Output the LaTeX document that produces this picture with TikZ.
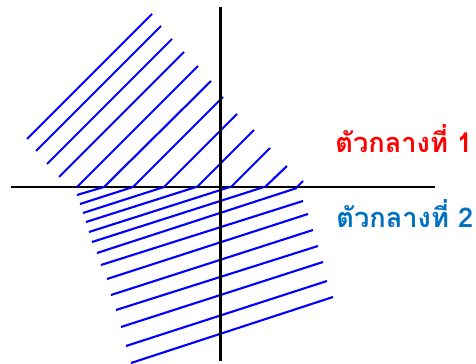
\documentclass[tikz,border=0pt]{standalone}
\usepackage{fontspec}
\newfontfamily\thaifont[Script=Thai]{Loma}
\definecolor{labelred}{RGB}{255,0,0}
\definecolor{labelblue}{RGB}{0,112,192}

\begin{document}
\begin{tikzpicture}[x=0.02cm, y=-0.02cm,
  axis/.style={line width=1.5pt},
  wave/.style={blue, line width=1.2pt},
  medium/.style={font=\thaifont\bfseries\fontsize{15.5}{18}\selectfont, inner sep=0pt, anchor=base west}]
\useasboundingbox (0,0) rectangle (476,364);

\coordinate (W) at (11,187);
\coordinate (E) at (435,187);
\coordinate (N) at (220.7,7);
\coordinate (S) at (220.7,361);

\draw[axis] (W) -- (E);

% medium 1
\draw[wave] (27,139) -- (152,14);
\draw[wave] (36,151) -- (161,26);
\draw[wave] (47,164) -- (172,39);
\draw[wave] (59,177) -- (184,52);
\draw[wave] (77,187) -- (198,66);
\draw[wave] (104,187) -- (211,81);
\draw[wave] (133,187) -- (223,97);
\draw[wave] (164,187) -- (237,114);
\draw[wave] (197,187) -- (254,130);
\draw[wave] (231,187) -- (270,148);
\draw[wave] (265,187) -- (287,166);
\draw[wave] (297,187) -- (303,181);

% medium 2
\draw[wave] (77,195) -- (104,187);
\draw[wave] (80,204) -- (133,187);
\draw[wave] (83,213) -- (164,187);
\draw[wave] (86,222) -- (196,187);
\draw[wave] (89,232) -- (230,187);
\draw[wave] (92,242) -- (264,187);
\draw[wave] (97,253) -- (297,188);
\draw[wave] (101,265) -- (303,201);
\draw[wave] (107,279) -- (308,214);
\draw[wave] (111,295) -- (313,230);
\draw[wave] (116,310) -- (318,246);
\draw[wave] (121,327) -- (323,262);
\draw[wave] (126,346) -- (327,281);
\draw[wave] (131,363) -- (333,297);

\draw[axis] (N) -- (S);

\node[medium, text=labelred] (m1) at (335,153) {ตัวกลางที่ 1};
\node[medium, text=labelblue] (m2) at (336,228) {ตัวกลางที่ 2};
\end{tikzpicture}
\end{document}
